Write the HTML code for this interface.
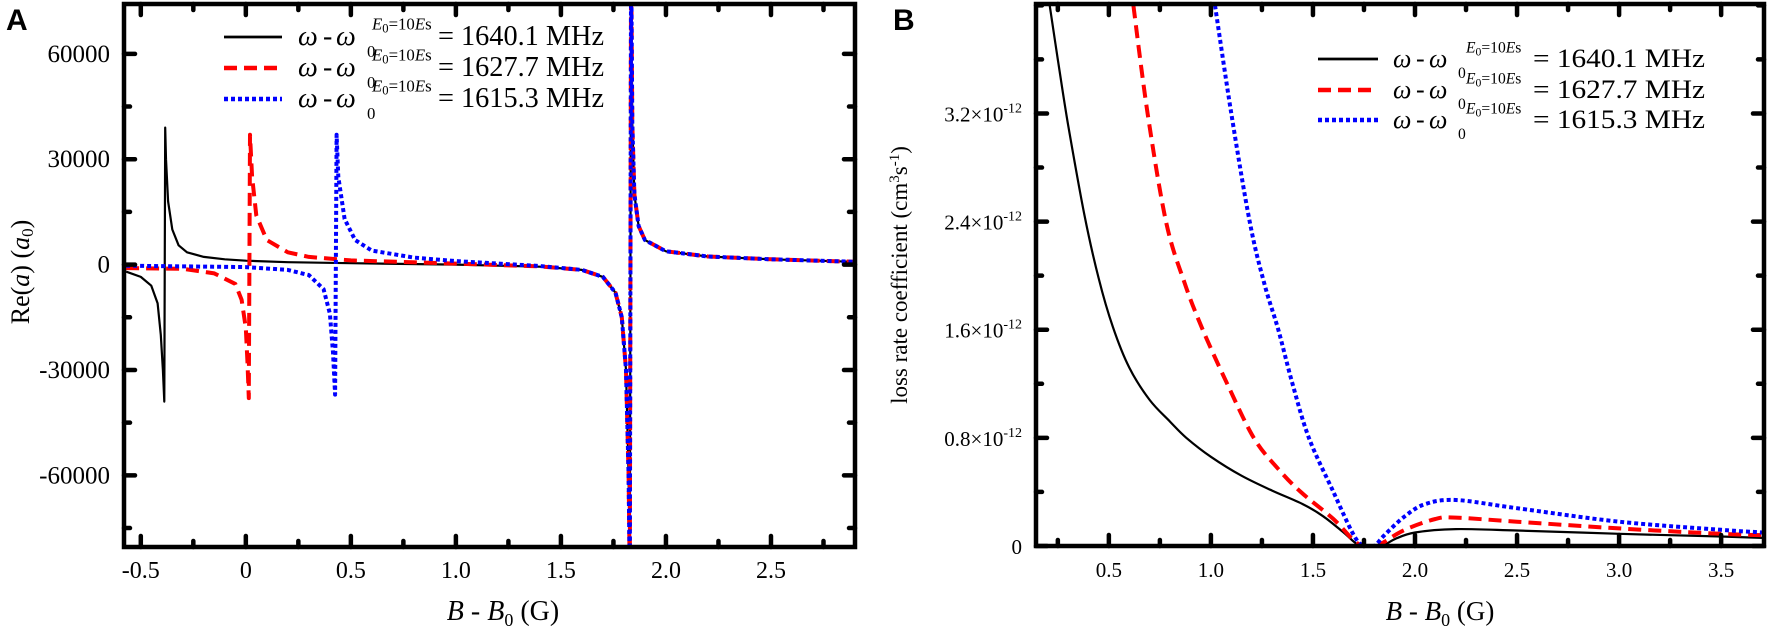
<!DOCTYPE html>
<html><head><meta charset="utf-8"><style>
body{margin:0;background:#fff;}
svg{display:block;font-family:"Liberation Serif",serif;}
</style></head><body>
<svg id="c" width="1772" height="634" viewBox="0 0 1772 634">
<text x="6" y="30" font-family="Liberation Sans" font-weight="bold" font-size="30">A</text>
<text x="893" y="30" font-family="Liberation Sans" font-weight="bold" font-size="30">B</text>
<g id="pa"></g>
<g id="pb"></g>
<text x="503" y="620" text-anchor="middle" font-size="28"><tspan font-style="italic">B</tspan> - <tspan font-style="italic">B</tspan><tspan font-size="18" dy="6">0</tspan><tspan dy="-6"> (G)</tspan></text>
<text x="1440" y="620" text-anchor="middle" font-size="27"><tspan font-style="italic">B</tspan> - <tspan font-style="italic">B</tspan><tspan font-size="18" dy="6">0</tspan><tspan dy="-6"> (G)</tspan></text>
<text transform="translate(29,272) rotate(-90)" text-anchor="middle" font-size="26">Re(<tspan font-style="italic">a</tspan>) (<tspan font-style="italic">a</tspan><tspan font-size="17" dy="4">0</tspan><tspan dy="-4">)</tspan></text>
<text transform="translate(907,275) rotate(-90)" text-anchor="middle" font-size="23">loss rate coefficient (cm<tspan font-size="15" dy="-8">3</tspan><tspan dy="8">s</tspan><tspan font-size="15" dy="-8">-1</tspan><tspan dy="8">)</tspan></text>
</svg>
<script>
// ---- Panel A data ----
const aBlackX=[-0.57,-0.5,-0.45,-0.42,-0.405,-0.395,-0.388,-0.384,-0.38,-0.37,-0.35,-0.32,-0.28,-0.2,-0.1,0,0.2,0.5,1.0,1.4,1.6,1.7,1.76,1.79,1.81,1.822,1.828,1.834,1.84,1.85,1.87,1.9,2.0,2.2,2.5,2.9];
const aBlackY=[-2000,-3500,-6000,-11000,-20000,-30000,-39000,39000,30000,18000,10000,5500,3500,2200,1500,1100,700,400,0,-600,-1500,-3500,-8000,-15000,-30000,-60000,-90000,90000,40000,20000,11000,7000,3800,2300,1500,800];
const aRedX=[-0.57,-0.3,-0.15,-0.05,-0.02,0,0.008,0.014,0.02,0.03,0.05,0.1,0.2,0.3,0.5,1.0,1.4,1.6,1.7,1.76,1.79,1.81,1.822,1.828,1.834,1.84,1.85,1.87,1.9,2.0,2.2,2.5,2.9];
const aRedY=[-1000,-1200,-2500,-5500,-10000,-18000,-28000,-38000,37000,25000,14000,7000,3500,2200,1200,300,-500,-1500,-3500,-8000,-15000,-30000,-60000,-90000,90000,40000,20000,11000,7000,3800,2300,1500,800];
const aBlueX=[-0.57,0,0.2,0.3,0.37,0.4,0.415,0.425,0.432,0.44,0.47,0.52,0.6,0.8,1.0,1.4,1.6,1.7,1.76,1.79,1.81,1.822,1.828,1.834,1.84,1.85,1.87,1.9,2.0,2.2,2.5,2.9];
const aBlueY=[-300,-700,-1500,-3000,-7000,-14000,-25000,-37000,37000,25000,13000,7000,4000,2000,1000,-400,-1500,-3500,-8000,-15000,-30000,-60000,-90000,90000,40000,20000,11000,7000,3800,2300,1500,800];
const aXTicks=[-0.5,0,0.5,1.0,1.5,2.0,2.5];
const aXLabels=["-0.5","0","0.5","1.0","1.5","2.0","2.5"];
const aYTicks=[-60000,-30000,0,30000,60000];
const aYLabels=["-60000","-30000","0","30000","60000"];
const legendVals=["1640.1","1627.7","1615.3"];
// ---- Panel B data ----
const bBlackX=[0.21,0.25,0.3,0.38,0.45,0.52,0.6,0.7,0.8,0.88,1.0,1.15,1.3,1.45,1.55,1.65,1.72,1.78,1.83,1.9,2.0,2.2,2.5,3.0,3.5,3.7];
const bBlackY=[4.0,3.6,3.12,2.45,1.98,1.62,1.32,1.08,0.92,0.8,0.66,0.52,0.41,0.31,0.22,0.1,0.01,-0.01,-0.01,0.05,0.1,0.125,0.115,0.09,0.07,0.06];
const bRedX=[0.62,0.69,0.78,0.87,0.96,1.08,1.21,1.33,1.44,1.6,1.7,1.75,1.8,1.85,1.95,2.1,2.2,2.5,3.0,3.5,3.7];
const bRedY=[4.0,3.2,2.4,1.95,1.6,1.2,0.8,0.57,0.4,0.2,0.04,0.0,-0.01,0.03,0.12,0.2,0.21,0.18,0.13,0.09,0.08];
const bBlueX=[1.02,1.1,1.19,1.26,1.33,1.4,1.48,1.6,1.7,1.75,1.8,1.85,1.95,2.05,2.2,2.5,3.0,3.5,3.7];
const bBlueY=[4.0,3.2,2.4,1.95,1.6,1.2,0.8,0.4,0.08,0.0,0.0,0.08,0.22,0.31,0.34,0.28,0.18,0.12,0.1];
const bXTicks=[0.5,1.0,1.5,2.0,2.5,3.0,3.5];
const bXLabels=["0.5","1.0","1.5","2.0","2.5","3.0","3.5"];
const bYTicks=[0,0.8,1.6,2.4,3.2];
const bYLabels=["0","0.8","1.6","2.4","3.2"];

const NS="http://www.w3.org/2000/svg";
function mk(parent,tag,attrs){const e=document.createElementNS(NS,tag);for(const k in attrs)e.setAttribute(k,attrs[k]);parent.appendChild(e);return e;}
function smoothPath(pts){
  let d="M"+pts[0][0].toFixed(1)+","+pts[0][1].toFixed(1);
  for(let i=0;i<pts.length-1;i++){
    const p0=pts[Math.max(0,i-1)],p1=pts[i],p2=pts[i+1],p3=pts[Math.min(pts.length-1,i+2)];
    const c1=[p1[0]+(p2[0]-p0[0])/6,p1[1]+(p2[1]-p0[1])/6];
    const c2=[p2[0]-(p3[0]-p1[0])/6,p2[1]-(p3[1]-p1[1])/6];
    d+="C"+c1[0].toFixed(1)+","+c1[1].toFixed(1)+" "+c2[0].toFixed(1)+","+c2[1].toFixed(1)+" "+p2[0].toFixed(1)+","+p2[1].toFixed(1);
  }
  return d;
}
function panel(g,cfg){
  const {L,R,T,B,x0,x1,y0,y1}=cfg;
  const sx=v=>L+(v-x0)/(x1-x0)*(R-L);
  const sy=v=>B-(v-y0)/(y1-y0)*(B-T);
  const clipId=cfg.id+"clip";
  const cp=mk(g,"clipPath",{id:clipId});mk(cp,"rect",{x:L,y:T,width:R-L,height:B-T});
  const lines=mk(g,"g",{"clip-path":"url(#"+clipId+")"});
  
  
  cfg.series.forEach(s=>{
    const pts=s.x.map((v,i)=>[sx(v),sy(s.y[i])]);
    const d=cfg.smooth?smoothPath(pts):pts.map((p,i)=>(i?"L":"M")+p[0].toFixed(1)+","+p[1].toFixed(1)).join("");
    const p=mk(lines,"path",{d:d,fill:"none",stroke:s.color,"stroke-width":s.w,"stroke-dasharray":s.dash||"none","stroke-linejoin":"round"});
    
    
  });
  const fr=mk(g,"rect",{x:L,y:T,width:R-L,height:B-T,fill:"none",stroke:"#000","stroke-width":4.5});
  
  
  const tk=mk(g,"g",{stroke:"#000","stroke-width":4.5,"stroke-linecap":"round"});
  for(let v=Math.ceil(x0/cfg.xm-1e-9)*cfg.xm;v<=x1+1e-9;v+=cfg.xm){
    const major=cfg.xt.some(t=>Math.abs(t-v)<1e-6);const len=major?11:6;const X=sx(v);
    mk(tk,"line",{x1:X,y1:B,x2:X,y2:B-len});mk(tk,"line",{x1:X,y1:T,x2:X,y2:T+len});
  }
  for(let v=Math.ceil(y0/cfg.ym-1e-9)*cfg.ym;v<=y1+1e-9;v+=cfg.ym){
    const major=cfg.yt.some(t=>Math.abs(t-v)<1e-6);const len=major?11:6;const Y=sy(v);
    mk(tk,"line",{x1:L,y1:Y,x2:L+len,y2:Y});mk(tk,"line",{x1:R,y1:Y,x2:R-len,y2:Y});
  }
  cfg.xt.forEach((v,i)=>{const t=mk(g,"text",{x:sx(v),y:B+31,"text-anchor":"middle","font-size":cfg.xfs});t.textContent=cfg.xl[i];
    
    });
  cfg.yt.forEach((v,i)=>{const t=mk(g,"text",{x:L-14,y:sy(v)+8,"text-anchor":"end","font-size":cfg.yfs});
    if(cfg.sci&&v!==0){t.textContent=cfg.yl[i]+"\u00d710";const s=mk(t,"tspan",{dy:-9,"font-size":14});s.textContent="-12";}
    else t.textContent=cfg.yl[i];
    
    });
  const lg=mk(g,"g",{});
  
  
  const lgm=cfg.lg;
  cfg.series.forEach((s,i)=>{
    const y=lgm.ys[i];
    const sw=mk(lg,"line",{x1:lgm.x1,y1:y,x2:lgm.x2,y2:y,stroke:s.color,"stroke-width":s.w+0.5,"stroke-dasharray":s.dash||"none"});
    
    
    const by=y+lgm.base;
    const t=mk(lg,"text",{x:lgm.wx,y:by,"font-size":lgm.fs});
    
    
    const a=mk(t,"tspan",{"font-style":"italic"});a.textContent="\u03c9";
    const b=mk(t,"tspan",{x:lgm.dashx});b.textContent="-";
    const c=mk(t,"tspan",{x:lgm.w2x,"font-style":"italic"});c.textContent="\u03c9";
    const d=mk(t,"tspan",{x:lgm.subx,y:by+lgm.fs*0.42,"font-size":lgm.fs*0.6});d.textContent="0";
    const e=mk(t,"tspan",{x:lgm.supx,y:by-lgm.fs*0.55,"font-size":lgm.fs*0.6,"font-style":"italic"});e.textContent="E";
    const f=mk(t,"tspan",{dy:3,"font-size":lgm.fs*0.45});f.textContent="0";
    const h=mk(t,"tspan",{dy:-3,"font-size":lgm.fs*0.6});h.textContent="=10";
    const j=mk(t,"tspan",{"font-size":lgm.fs*0.6,"font-style":"italic"});j.textContent="E";
    const k=mk(t,"tspan",{"font-size":lgm.fs*0.6});k.textContent="s";
    const m=mk(t,"tspan",{x:lgm.eqx,y:by,textLength:lgm.eqw,lengthAdjust:"spacingAndGlyphs"});m.textContent="= "+legendVals[i]+" MHz";
  });
}
const S=(x,y,color,w,dash,name)=>({x,y,color,w,dash,name});
panel(document.getElementById("pa"),{id:"a",L:124,R:855,T:4,B:547,x0:-0.58,x1:2.9,y0:-80400,y1:74200,
  xt:aXTicks,xl:aXLabels,yt:aYTicks,yl:aYLabels,xm:0.25,ym:15000,xfs:24,yfs:25,
  lg:{x1:224,x2:282,ys:[37,68,99],wx:298,dashx:323,w2x:336,subx:367,supx:372,eqx:438,eqw:166,fs:28,base:8},
  series:[S(aBlackX,aBlackY,"#000",2.2,null,"series-1640-1"),S(aRedX,aRedY,"#f00",4,"13,7","series-1627-7"),S(aBlueX,aBlueY,"#00f",4,"4,3","series-1615-3")]});
panel(document.getElementById("pb"),{id:"b",L:1036,R:1764,T:4,B:546,x0:0.143,x1:3.71,y0:0,y1:4.01,sci:true,smooth:true,
  xt:bXTicks,xl:bXLabels,yt:bYTicks,yl:bYLabels,xm:0.25,ym:0.4,xfs:21,yfs:21,
  lg:{x1:1318,x2:1378,ys:[59,90,120],wx:1393,dashx:1416,w2x:1429,subx:1458,supx:1466,eqx:1533,eqw:172,fs:26,base:8},
  series:[S(bBlackX,bBlackY,"#000",2.2,null,"series-1640-1"),S(bRedX,bRedY,"#f00",4,"13,7","series-1627-7"),S(bBlueX,bBlueY,"#00f",4,"4,3","series-1615-3")]});
</script>
</body></html>
